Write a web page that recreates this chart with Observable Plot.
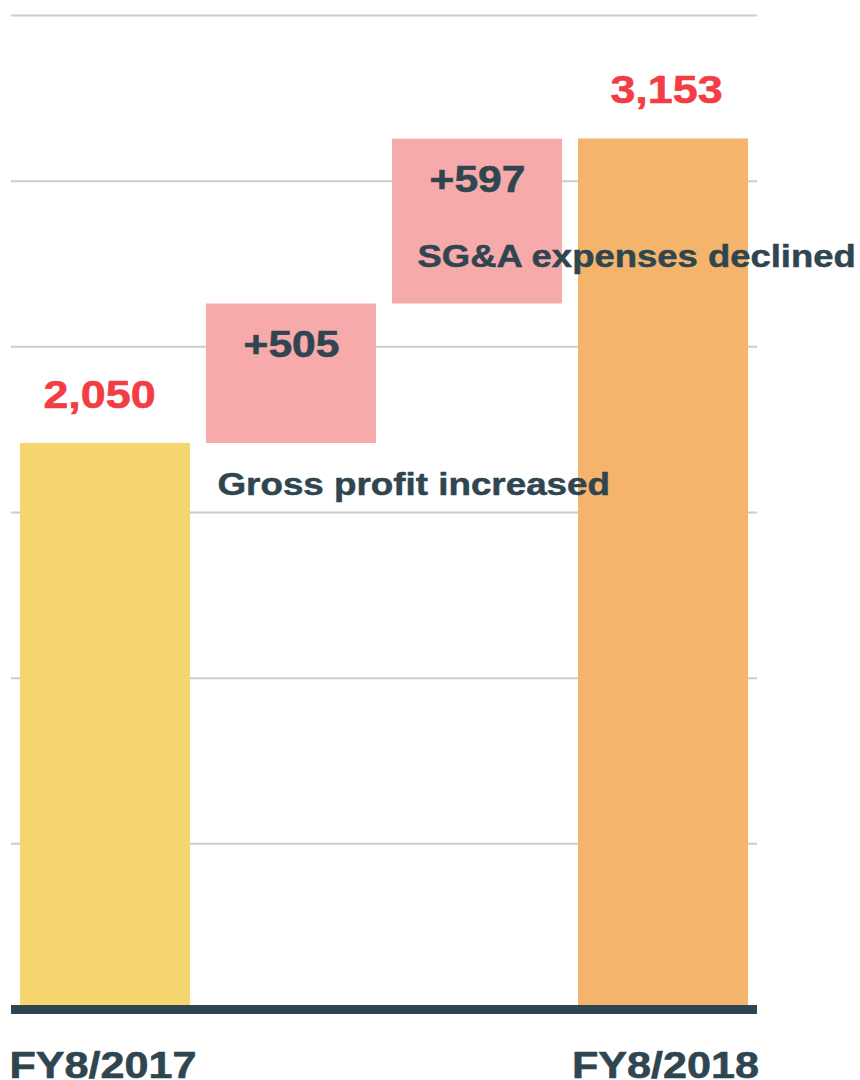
<!DOCTYPE html>
<html>
<head>
<meta charset="utf-8">
<script src="https://cdn.jsdelivr.net/npm/d3@7"></script>
<script src="https://cdn.jsdelivr.net/npm/@observablehq/plot@0.6"></script>
<style>
  html, body { margin: 0; padding: 0; background: #fff; }
  #chart svg { display: block; }
</style>
</head>
<body>
<div id="chart"></div>
<script>
// ---- data ----
const steps = ["FY8/2017", "Gross profit", "SG&A", "FY8/2018"];
const kinds = ["total", "delta", "delta", "total"];
const values = [2050, 505, 597, 3153];
const axisLabels = ["FY8/2017", "FY8/2018"];
const annotationGross = ["Gross profit increased"];
const annotationSGA = ["SG&A expenses declined"];
const gridTicks = [600, 1200, 1800, 2400, 3000, 3600];

// ---- build waterfall rows ----
let running = 0;
const rows = steps.map((s, i) => {
  let y1, y2;
  if (kinds[i] === "total") { y1 = 0; y2 = values[i]; running = values[i]; }
  else { y1 = running; y2 = running + values[i]; running = y2; }
  return { step: s, kind: kinds[i], value: values[i], y1, y2, i };
});
const totals = rows.filter(d => d.kind === "total");
const deltas = rows.filter(d => d.kind === "delta");

const barColor = d => d.kind === "delta" ? "#F7AAAA" : (d.i === 0 ? "#F5D56E" : "#F5B46B");
const dark = "#2F4550";
const red = "#F33D45";
const fmtTotal = d => d3.format(",")(d.value);

const chart = Plot.plot({
  width: 860,
  height: 1080,
  marginLeft: 11,
  marginRight: 103,
  marginTop: 15,
  marginBottom: 71,
  x: { domain: steps, paddingInner: 0.0875, paddingOuter: 0.048, axis: null },
  y: { domain: [0, 3600], axis: null },
  style: { fontFamily: "'Liberation Sans', Arial, Helvetica, sans-serif", background: "#fff", overflow: "visible" },
  marks: [
    Plot.ruleY(gridTicks, { stroke: "#cccccc", strokeWidth: 2 }),
    Plot.barY(rows, { x: "step", y1: "y1", y2: "y2", fill: barColor }),
    Plot.ruleY([0], { stroke: dark, strokeWidth: 9 }),
    Plot.text([totals[0]], { x: "step", y: "y2", text: fmtTotal, fill: red, stroke: red, strokeWidth: 0.6, fontSize: 39, fontWeight: "bold", dy: -48, dx: -6, lineAnchor: "middle" }),
    Plot.text([totals[1]], { x: "step", y: "y2", text: fmtTotal, fill: red, stroke: red, strokeWidth: 0.6, fontSize: 39, fontWeight: "bold", dy: -48, dx: 3, lineAnchor: "middle" }),
    Plot.text(deltas, { x: "step", y: "y2", text: d => d3.format("+,")(d.value), fill: dark, stroke: dark, strokeWidth: 0.6, fontSize: 37, fontWeight: "bold", dy: 41, lineAnchor: "middle" }),
    Plot.text(annotationGross, { x: () => steps[1], y: () => rows[1].y1, text: d => d, fill: dark, stroke: dark, strokeWidth: 0.5, fontSize: 32, fontWeight: "bold", textAnchor: "start", dx: -74, dy: 41, lineAnchor: "middle" }),
    Plot.text(annotationSGA, { x: () => steps[2], y: () => rows[2].y1, text: d => d, fill: dark, stroke: dark, strokeWidth: 0.5, fontSize: 31.7, fontWeight: "bold", textAnchor: "start", dx: -60, dy: -47, lineAnchor: "middle" }),
    Plot.text([axisLabels[0]], { frameAnchor: "bottom-left", text: d => d, fill: dark, stroke: dark, strokeWidth: 0.6, fontSize: 37.5, fontWeight: "bold", textAnchor: "start", dx: -2, dy: 56, lineAnchor: "middle" }),
    Plot.text([axisLabels[1]], { frameAnchor: "bottom-right", text: d => d, fill: dark, stroke: dark, strokeWidth: 0.6, fontSize: 37.5, fontWeight: "bold", textAnchor: "end", dx: 1.5, dy: 56, lineAnchor: "middle" })
  ]
});
// the reference type is set slightly wide: stretch each label horizontally about its anchor
chart.querySelectorAll("text").forEach(t => {
  const tr = t.getAttribute("transform") || "";
  t.setAttribute("transform", tr + " scale(1.15,1)");
});
document.getElementById("chart").appendChild(chart);
</script>
</body>
</html>
